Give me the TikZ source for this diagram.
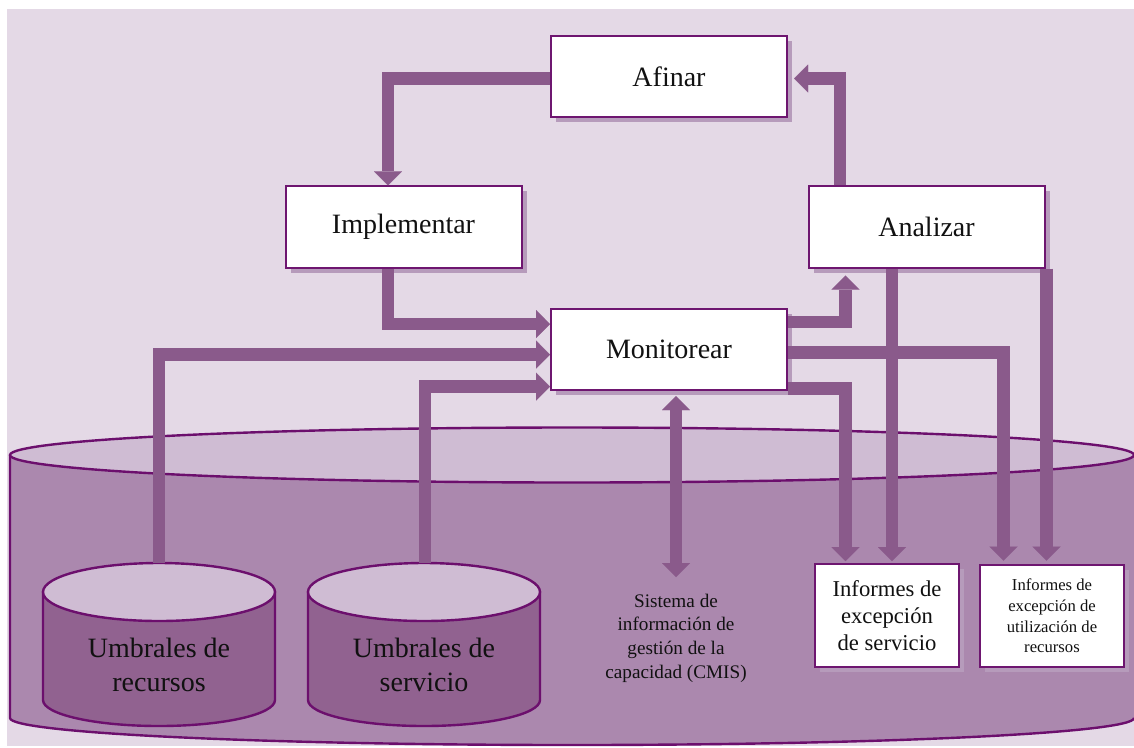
\documentclass[tikz,border=0pt]{standalone}
\usepackage{fontspec}
\setmainfont{Liberation Serif}
\usetikzlibrary{arrows.meta,calc,shadows}

\definecolor{bgcol}{HTML}{E4D9E6}
\definecolor{cyltop}{HTML}{CFBCD3}
\definecolor{cylbody}{HTML}{AB88AE}
\definecolor{scylbody}{HTML}{916290}
\definecolor{cylline}{HTML}{6C0F6D}
\definecolor{arrowcol}{HTML}{8A5A8B}
\definecolor{boxline}{HTML}{6E1670}
\definecolor{shadowcol}{HTML}{B69BBB}
\definecolor{txt}{HTML}{111111}

\begin{document}
\begin{tikzpicture}[x=0.75pt,y=-0.75pt,
  box/.style={draw=boxline, line width=1.5pt, fill=white, inner sep=0pt,
    align=center, text=txt,
    drop shadow={shadow xshift=3.75pt, shadow yshift=-3.75pt, fill=shadowcol, opacity=1}},
  bigbox/.style={box, minimum width=177pt, minimum height=61pt,
    font=\fontsize{21}{25}\selectfont},
  reportbox/.style={box, minimum width=108pt, minimum height=77pt},
  cyltext/.style={align=center, text=txt, font=\fontsize{21}{25.5}\selectfont},
  tipshape/.style={},
  arr/.style={draw=arrowcol, line width=9.5pt,
    -{Triangle[width=21pt,length=10.5pt,line width=0.01pt]}},
  dblarr/.style={draw=arrowcol, line width=9.5pt,
    {Triangle[width=21pt,length=10.5pt,line width=0.01pt]}-{Triangle[width=21pt,length=10.5pt,line width=0.01pt]}},
  cylstroke/.style={draw=cylline, line width=1.8pt}
]
\useasboundingbox (0,0) rectangle (1134,747);
\fill[white] (0,0) rectangle (1134,747);
\fill[bgcol] (7,9) rectangle (1134,746);

% large database cylinder
\fill[cylbody] (10,455) -- (10,718)
  arc[start angle=180, end angle=0, x radius=562, y radius=27] -- (1134,455) -- cycle;
\draw[cylstroke] (10,455) -- (10,718)
  arc[start angle=180, end angle=0, x radius=562, y radius=27];
\filldraw[fill=cyltop, cylstroke] (572,455) ellipse[x radius=562, y radius=27.5];

% threshold cylinders
\foreach \cx in {159,424} {
  \filldraw[fill=scylbody, cylstroke] (\cx-116,592) -- (\cx-116,700)
    arc[start angle=180, end angle=0, x radius=116, y radius=26] -- (\cx+116,592) -- cycle;
  \filldraw[fill=cyltop, cylstroke] (\cx,592) ellipse[x radius=116, y radius=29];
}
\node[cyltext] (ur) at (159,665) {Umbrales de\\recursos};
\node[cyltext] (us) at (424,665) {Umbrales de\\servicio};
\coordinate (urtop) at (159,563);
\coordinate (ustop) at (425,563);

% process boxes
\node[bigbox] (afinar) at (669,76.5) {Afinar};
\node[bigbox] (impl) at (403.5,227) {Implementar};
\node[bigbox] (anal) at (926.5,227) {Analizar};
\node[bigbox] (mon) at (669,349.5) {Monitorear};

% report boxes
\node[reportbox, font=\fontsize{17}{20}\selectfont] (ise) at (887,615.5)
  {Informes de\\excepción\\de servicio};
\node[reportbox, font=\fontsize{12.5}{15.5}\selectfont] (iur) at (1052,616)
  {Informes de\\excepción de\\utilización de\\recursos};

% CMIS label
\node[align=center, text=txt, font=\fontsize{14.4}{17.8}\selectfont] (cmis) at (676,638)
  {Sistema de\\información de\\gestión de la\\capacidad (CMIS)};
\coordinate (cmisend) at (676,577);

% connectors
\draw[arr] ($(afinar.west)+(0,2)$) -| ($(impl.north)+(-15.5,0)$);
\draw[arr] ($(anal.north)+(-86.5,0)$) |- ($(afinar.east)+(6,2)$);
\draw[arr] ($(impl.south)+(-15.5,0)$) |- ($(mon.west)+(0,-25.5)$);
\draw[arr] (urtop) |- ($(mon.west)+(0,5)$);
\draw[arr] (ustop) |- ($(mon.west)+(0,37)$);
\draw[arr] ($(mon.east)+(0,-27.5)$) -| ($(anal.south)+(-81,7)$);
\draw[arr] ($(mon.east)+(0,3)$) -| ($(iur.north)+(-48.5,-3)$);
\draw[arr] ($(mon.east)+(0,39)$) -| ($(ise.north)+(-41.5,-2)$);
\draw[arr] ($(anal.south)+(-34.5,0)$) -- ($(ise.north)+(5,-2)$);
\draw[arr] ($(anal.south)+(120,0)$) -- ($(iur.north)+(-5.5,-3)$);
\draw[dblarr] ($(mon.south)+(7,5)$) -- (cmisend);
\end{tikzpicture}
\end{document}
